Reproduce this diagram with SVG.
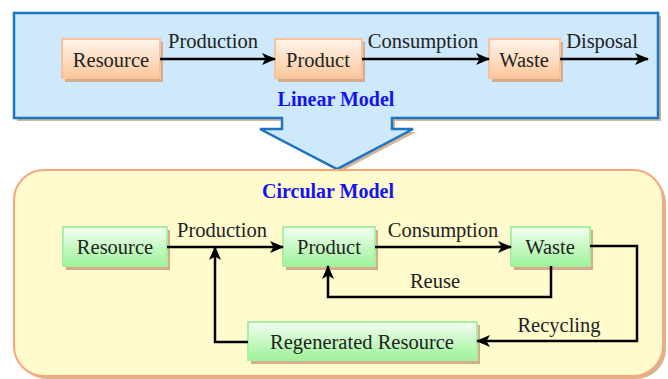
<svg xmlns="http://www.w3.org/2000/svg" width="668" height="379" viewBox="0 0 668 379">
<defs>
<linearGradient id="gOr" x1="0" y1="0" x2="0" y2="1">
<stop offset="0" stop-color="#fff5ec"/><stop offset="1" stop-color="#fcc79c"/>
</linearGradient>
<linearGradient id="gGr" x1="0" y1="0" x2="0" y2="1">
<stop offset="0" stop-color="#f4fff2"/><stop offset="1" stop-color="#9ef39a"/>
</linearGradient>
<marker id="ah" markerUnits="userSpaceOnUse" markerWidth="14" markerHeight="12" refX="13" refY="6" orient="auto">
<path d="M0,0 L14,6 L0,12 L3.5,6 Z" fill="#000"/>
</marker>
<style>
.sh{fill:#d4ae8c}
.or{fill:url(#gOr);stroke:#f9c29c;stroke-width:2}
.gr{fill:url(#gGr);stroke:#a6f0a2;stroke-width:2}
.t{font-family:"Liberation Serif",serif;font-size:20.5px;fill:#222;text-anchor:middle}
.h{font-family:"Liberation Serif",serif;font-size:20px;font-weight:bold;fill:#1414f0;text-anchor:middle}
.c{fill:none;stroke:#000;stroke-width:2.5;marker-end:url(#ah)}
</style>
</defs>
<g id="linear-panel">
<path d="M17,16 H661 V121 H395 V132 H416 L340,172 L263,132 H285 V121 H17 Z" fill="#d8b494"/>
<path d="M14,13 H658 V118 H392 V129 H413 L337,169 L260,129 H282 V118 H14 Z" fill="#cde9fb" stroke="#1a76c4" stroke-width="2.5"/>
<text class="h" x="336" y="106">Linear Model</text>
</g>
<g id="circular-panel">
<rect x="17" y="173" width="649" height="206" rx="30" fill="#d8b494"/>
<rect x="14" y="170" width="649" height="206" rx="30" fill="#fffbcc" stroke="#f9a57a" stroke-width="2"/>
<text class="h" x="328" y="198">Circular Model</text>
</g>
<g id="lin-resource"><rect class="sh" x="65" y="42" width="98" height="40"/><rect class="or" x="62" y="39" width="98" height="39"/><text class="t" x="111" y="67">Resource</text></g>
<g id="lin-product"><rect class="sh" x="278" y="42" width="87" height="40"/><rect class="or" x="275" y="39" width="87" height="39"/><text class="t" x="318" y="67">Product</text></g>
<g id="lin-waste"><rect class="sh" x="492" y="42" width="71" height="40"/><rect class="or" x="489" y="39" width="71" height="39"/><text class="t" x="524" y="67">Waste</text></g>
<g id="cir-resource"><rect class="sh" x="66" y="230" width="104" height="40"/><rect class="gr" x="63" y="227" width="104" height="39"/><text class="t" x="115" y="254">Resource</text></g>
<g id="cir-product"><rect class="sh" x="286" y="230" width="92" height="40"/><rect class="gr" x="283" y="227" width="92" height="39"/><text class="t" x="329" y="254">Product</text></g>
<g id="cir-waste"><rect class="sh" x="514" y="230" width="79" height="40"/><rect class="gr" x="511" y="227" width="79" height="39"/><text class="t" x="550" y="254">Waste</text></g>
<g id="cir-regen"><rect class="sh" x="251" y="325" width="229" height="39"/><rect class="gr" x="248" y="322" width="229" height="38"/><text class="t" x="362" y="349">Regenerated Resource</text></g>
<g id="connectors">
<path class="c" d="M160,59 H275"/>
<path class="c" d="M362,59 H489"/>
<path class="c" d="M560,59 H648"/>
<path class="c" d="M167,247 H283"/>
<path class="c" d="M248,342 H215 V247"/>
<path class="c" d="M375,247 H511"/>
<path class="c" d="M551,266 V297 H328 V266"/>
<path class="c" d="M590,246 H637 V341 H477"/>
<text class="t" x="213" y="48">Production</text>
<text class="t" x="423" y="48">Consumption</text>
<text class="t" x="602" y="48">Disposal</text>
<text class="t" x="222" y="237">Production</text>
<text class="t" x="443" y="237">Consumption</text>
<text class="t" x="435" y="288">Reuse</text>
<text class="t" x="559" y="332">Recycling</text>
</g>
</svg>
